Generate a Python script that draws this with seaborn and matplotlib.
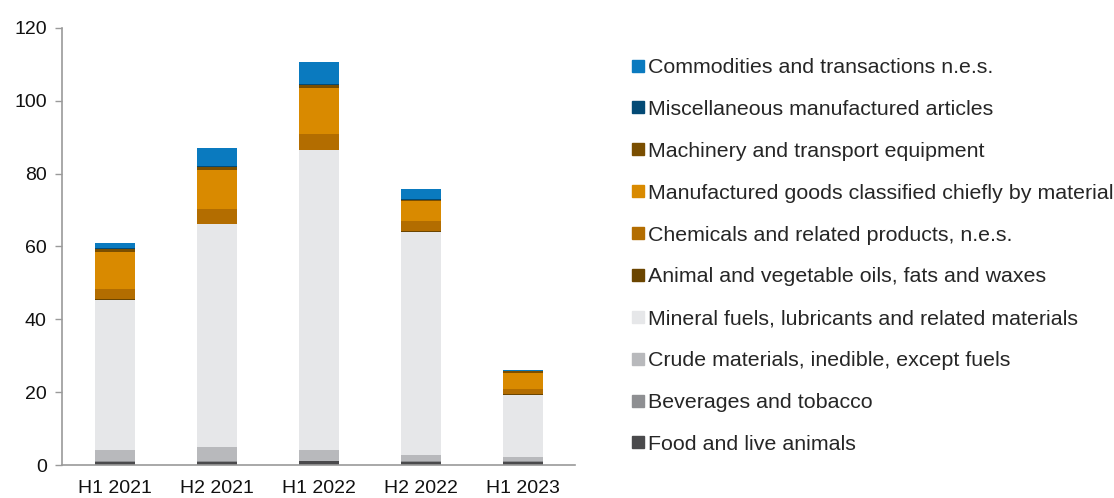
import matplotlib
matplotlib.use("Agg")
import matplotlib.pyplot as plt
import seaborn as sns
import pandas as pd
from matplotlib.lines import Line2D

periods = ["H1 2021", "H2 2021", "H1 2022", "H2 2022", "H1 2023"]

# legend order (top to bottom in stack)
categories = [
    "Commodities and transactions n.e.s.",
    "Miscellaneous manufactured articles",
    "Machinery and transport equipment",
    "Manufactured goods classified chiefly by material",
    "Chemicals and related products, n.e.s.",
    "Animal and vegetable oils, fats and waxes",
    "Mineral fuels, lubricants and related materials",
    "Crude materials, inedible, except fuels",
    "Beverages and tobacco",
    "Food and live animals",
]

commodities = [1.4, 4.9, 6.0, 2.7, 0.2]
miscellaneous = [0.3, 0.4, 0.3, 0.2, 0.1]
machinery = [0.9, 0.9, 0.8, 0.5, 0.4]
manufactured = [10.0, 10.5, 12.8, 5.5, 4.4]
chemicals = [2.9, 4.1, 4.3, 2.7, 1.6]
animal_oils = [0.1, 0.1, 0.1, 0.1, 0.1]
mineral_fuels = [41.4, 61.2, 82.2, 61.3, 17.1]
crude = [3.0, 4.0, 3.0, 1.8, 1.2]
beverages = [0.1, 0.1, 0.1, 0.1, 0.1]
food = [0.9, 0.9, 1.1, 0.9, 0.9]

series = [commodities, miscellaneous, machinery, manufactured, chemicals,
          animal_oils, mineral_fuels, crude, beverages, food]

colors = ["#0a7abf", "#034a75", "#7a4e00", "#d98a00", "#b36d00",
          "#6b4500", "#e6e7e9", "#b8b9bc", "#8e8f92", "#4a4a4c"]

rows = []
for cat, vals in zip(categories, series):
    for p, v in zip(periods, vals):
        rows.append({"period": p, "category": cat, "value": v})
df = pd.DataFrame(rows)
df["period"] = pd.Categorical(df["period"], categories=periods, ordered=True)

sns.set_style("white")
plt.rcParams["font.family"] = ["Liberation Sans", "DejaVu Sans"]

fig = plt.figure(figsize=(11.14, 4.98), dpi=100)
ax = fig.add_axes([62 / 1114, 1 - 465 / 498, (575 - 62) / 1114, (465 - 28) / 498])

sns.histplot(data=df, x="period", weights="value", hue="category",
             hue_order=categories, palette=dict(zip(categories, colors)),
             multiple="stack", discrete=True, shrink=0.39, alpha=1,
             linewidth=0, edgecolor="none", legend=False, ax=ax)

ax.set_xlim(-0.52, 4.51)
ax.set_ylim(0, 120)
ax.set_yticks(range(0, 121, 20))
ax.set_xticks(range(len(periods)))
ax.set_xticklabels(periods)
ax.set_xlabel("")
ax.set_ylabel("")
for s in ["top", "right"]:
    ax.spines[s].set_visible(False)
for s in ["left", "bottom"]:
    ax.spines[s].set_color("#9a9a9a")
    ax.spines[s].set_linewidth(1.2)
ax.tick_params(axis="y", which="major", length=5, width=1, color="#9a9a9a",
               labelsize=14, labelcolor="#111111", pad=6, left=True)
ax.tick_params(axis="x", length=0, labelsize=14, labelcolor="#111111", pad=11)

handles = [Line2D([0], [0], marker="s", linestyle="none", markersize=8,
                  markerfacecolor=c, markeredgecolor=c) for c in colors]
fig.legend(handles, categories, loc="upper left",
           bbox_to_anchor=(633 / 1114, 1 - 58 / 498), frameon=False,
           fontsize=15.4, labelspacing=1.07, handlelength=0.5,
           handletextpad=0.2, borderpad=0, borderaxespad=0)

fig.savefig("out.png", dpi=100)
